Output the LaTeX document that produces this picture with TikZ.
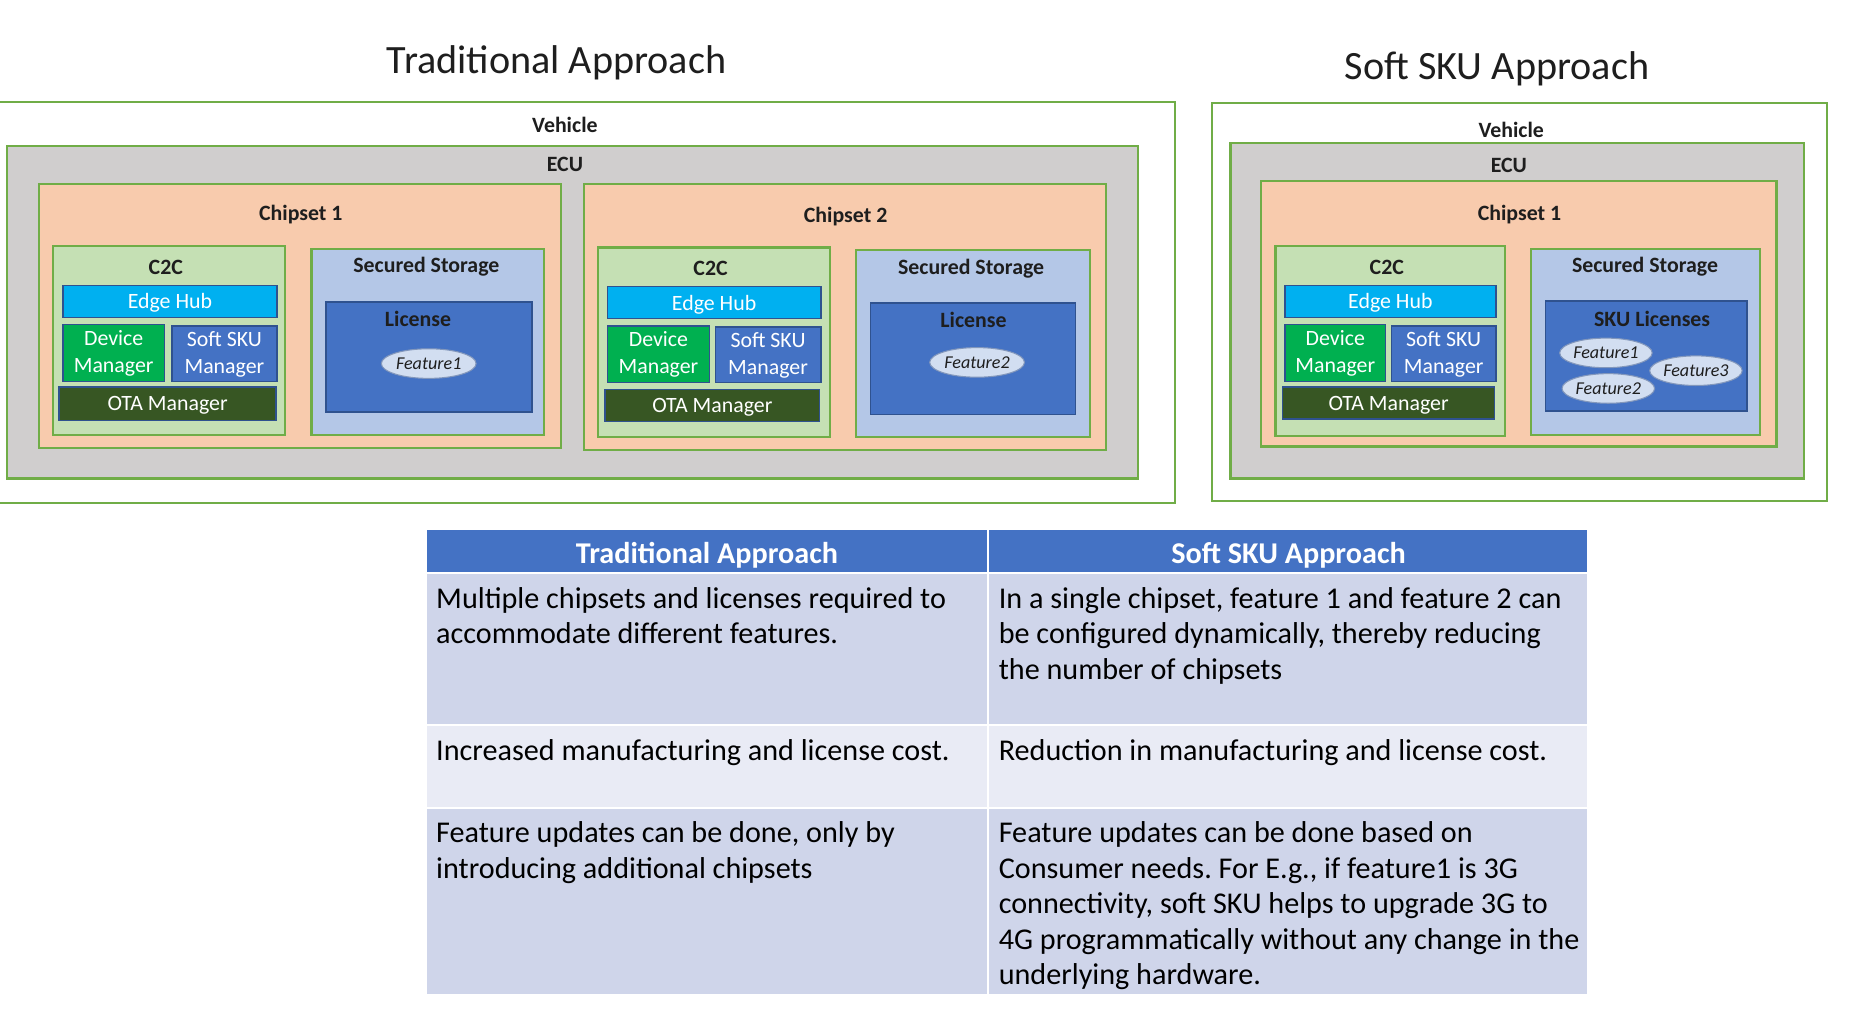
\documentclass[tikz,border=0pt]{standalone}
\usepackage{fontspec}
\setmainfont{Carlito}
\usetikzlibrary{shapes.geometric}
\frenchspacing

\definecolor{framegreen}{HTML}{70AD47}
\definecolor{ecugray}{HTML}{D0CECE}
\definecolor{chippeach}{HTML}{F8CBAD}
\definecolor{ctwocgreen}{HTML}{C5E0B4}
\definecolor{storeblue}{HTML}{B4C7E7}
\definecolor{licblue}{HTML}{4472C4}
\definecolor{edgeblue}{HTML}{00B0F0}
\definecolor{devgreen}{HTML}{00B050}
\definecolor{otagreen}{HTML}{375623}
\definecolor{rimblue}{HTML}{2F528F}
\definecolor{featfill}{HTML}{D2DEF1}
\definecolor{rowdark}{HTML}{CFD5EA}
\definecolor{rowlight}{HTML}{E9EBF5}
\definecolor{inktext}{HTML}{1E1E1E}

\tikzset{
  frame/.style={draw=framegreen, line width=1pt},
  part/.style={draw=rimblue, line width=0.8pt},
  parttext/.style={text=white, font=\fontsize{10.5}{13}\selectfont, align=center, inner sep=0pt},
  boxlabel/.style={text=inktext, font=\bfseries\fontsize{10.5}{12}\selectfont, inner sep=0pt},
  feat/.style={ellipse, draw=rimblue!60, fill=featfill, line width=0.5pt, text=inktext,
    font=\itshape\fontsize{8.7}{10}\selectfont, minimum width=1.6cm, minimum height=0.5cm, inner sep=0pt},
  title/.style={text=inktext, font=\fontsize{19.3}{23}\selectfont},
  cell/.style={draw=white, line width=1pt},
  celltext/.style={anchor=north west, inner sep=0pt, align=left, text=black,
    font=\fontsize{14.5}{17.07}\selectfont},
  headtext/.style={text=white, font=\bfseries\fontsize{14.5}{17}\selectfont, inner sep=0pt}
}

\begin{document}
\begin{tikzpicture}[x=0.02cm, y=-0.02cm]
\useasboundingbox (0,0) rectangle (1568,864);

% titles
\node[title] (tradtitle) at (470,53) {Traditional Approach};
\node[title] (skutitle) at (1264,58) {Soft SKU Approach};

% traditional approach
\draw[frame, fill=white] (-5,86) rectangle (992,425);
\node[boxlabel] (vehA) at (477,105.5) {Vehicle};
\draw[frame, fill=ecugray] (6,123) rectangle (961,404);
\node[boxlabel] (ecuA) at (477,138.5) {ECU};

\draw[frame, fill=chippeach] (33,155) rectangle (474,378);
\node[boxlabel] (chipA) at (254,181.5) {Chipset 1};
\draw[frame, fill=ctwocgreen] (45,208) rectangle (241,367);
\node[boxlabel] (ctwocA) at (140,225.5) {C2C};
\draw[part, fill=edgeblue] (53,241) rectangle (234,268);
\node[parttext] (hubA) at (143.5,256) {Edge Hub};
\draw[part, fill=devgreen] (53,274) rectangle (139,322);
\node[parttext] (devA) at (96,298.5) {Device\\Manager};
\draw[part, fill=licblue] (145,275) rectangle (234,322);
\node[parttext] (skumA) at (189.5,299) {Soft SKU\\Manager};
\draw[part, fill=otagreen] (50,327) rectangle (233,355);
\node[parttext] (otaA) at (141.5,342.5) {OTA Manager};
\draw[frame, fill=storeblue] (263,210) rectangle (459,367);
\node[boxlabel] (storeA) at (360,225.5) {Secured Storage};
\draw[part, fill=licblue] (275,255) rectangle (449,348);
\node[boxlabel] (licA) at (353,269) {License};
\node[feat] (featA) at (362,307) {Feature1};

\draw[frame, fill=chippeach] (493,155) rectangle (934,380);
\node[boxlabel] (chipB) at (714,182.5) {Chipset 2};
\draw[frame, fill=ctwocgreen] (505,209) rectangle (701,369);
\node[boxlabel] (ctwocB) at (600,227) {C2C};
\draw[part, fill=edgeblue] (513,242) rectangle (693,269);
\node[parttext] (hubB) at (603,257) {Edge Hub};
\draw[part, fill=devgreen] (513,275) rectangle (599,323);
\node[parttext] (devB) at (556,299.5) {Device\\Manager};
\draw[part, fill=licblue] (604,276) rectangle (693,323);
\node[parttext] (skumB) at (648.5,300) {Soft SKU\\Manager};
\draw[part, fill=otagreen] (511,329) rectangle (692,356);
\node[parttext] (otaB) at (601.5,344) {OTA Manager};
\draw[frame, fill=storeblue] (723,211) rectangle (920,369);
\node[boxlabel] (storeB) at (820,227) {Secured Storage};
\draw[part, fill=licblue] (735,256) rectangle (908,350);
\node[boxlabel] (licB) at (822,270) {License};
\node[feat] (featB) at (825,306) {Feature2};

% soft sku approach
\draw[frame, fill=white] (1023,87) rectangle (1543,423);
\node[boxlabel] (vehC) at (1276,109.5) {Vehicle};
\draw[frame, fill=ecugray] (1039,121) rectangle (1523,404);
\node[boxlabel] (ecuC) at (1274,139.5) {ECU};
\draw[frame, fill=chippeach] (1065,153) rectangle (1500,377);
\node[boxlabel] (chipC) at (1283,181.5) {Chipset 1};
\draw[frame, fill=ctwocgreen] (1077,208) rectangle (1271,368);
\node[boxlabel] (ctwocC) at (1171,225.5) {C2C};
\draw[part, fill=edgeblue] (1085,241) rectangle (1263,268);
\node[parttext] (hubC) at (1174,256) {Edge Hub};
\draw[part, fill=devgreen] (1085,274) rectangle (1170,322);
\node[parttext] (devC) at (1127.5,298.5) {Device\\Manager};
\draw[part, fill=licblue] (1175,275) rectangle (1263,322);
\node[parttext] (skumC) at (1219,299) {Soft SKU\\Manager};
\draw[part, fill=otagreen] (1083,327) rectangle (1262,354);
\node[parttext] (otaC) at (1172.5,342) {OTA Manager};
\draw[frame, fill=storeblue] (1293,210) rectangle (1486,367);
\node[boxlabel] (storeC) at (1389,225.5) {Secured Storage};
\draw[part, fill=licblue] (1305,254) rectangle (1475,347);
\node[boxlabel] (licC) at (1395,269.5) {SKU Licenses};
\node[feat, minimum width=1.52cm] (featC1) at (1356,298) {Feature1};
\node[feat, minimum width=1.52cm] (featC2) at (1358,328) {Feature2};
\node[feat, minimum width=1.52cm] (featC3) at (1432,313) {Feature3};

% comparison table
\draw[cell, fill=licblue] (360,447) rectangle (834,484);
\draw[cell, fill=licblue] (834,447) rectangle (1341,484);
\draw[cell, fill=rowdark] (360,484) rectangle (834,612);
\draw[cell, fill=rowdark] (834,484) rectangle (1341,612);
\draw[cell, fill=rowlight] (360,612) rectangle (834,682);
\draw[cell, fill=rowlight] (834,612) rectangle (1341,682);
\draw[cell, fill=rowdark] (360,682) rectangle (834,840);
\draw[cell, fill=rowdark] (834,682) rectangle (1341,840);

\node[headtext] (headA) at (597,468.5) {Traditional Approach};
\node[headtext] (headB) at (1088,468.5) {Soft SKU Approach};

\node[celltext] (oneA) at (368,495.5) {Multiple chipsets and licenses required to\\accommodate different features.};
\node[celltext] (oneB) at (843,495.5) {In a single chipset, feature 1 and feature 2 can\\be configured dynamically, thereby reducing\\the number of chipsets};
\node[celltext] (twoA) at (368,624.5) {Increased manufacturing and license cost.};
\node[celltext] (twoB) at (843,624.5) {Reduction in manufacturing and license cost.};
\node[celltext] (threeA) at (368,693.5) {Feature updates can be done, only by\\introducing additional chipsets};
\node[celltext] (threeB) at (843,693.5) {Feature updates can be done based on\\Consumer needs. For E.g., if feature1 is 3G\\connectivity, soft SKU helps to upgrade 3G to\\4G programmatically without any change in the\\underlying hardware.};
\end{tikzpicture}
\end{document}
